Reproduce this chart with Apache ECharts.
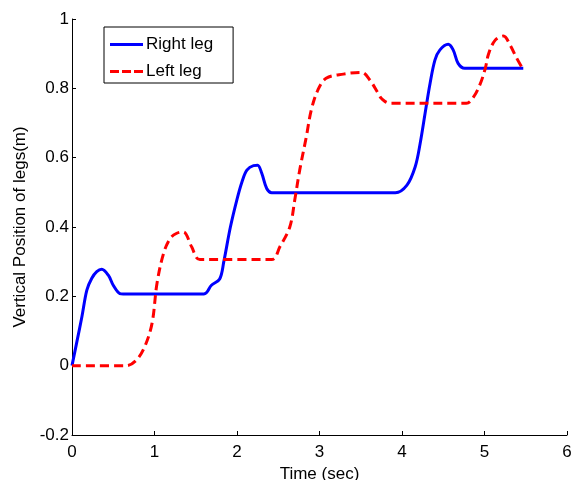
<!DOCTYPE html>
<html>
<head>
<meta charset="utf-8">
<script src="https://cdn.jsdelivr.net/npm/echarts@6/dist/echarts.min.js"></script>
<style>
  html, body { margin: 0; padding: 0; background: #fff; }
  #chart { width: 572px; height: 480px; }
</style>
</head>
<body>
<div id="chart"></div>
<script>
// Right leg trajectory: time (s) and vertical position (m)
const rightT = [0, 0.06, 0.12, 0.18, 0.24, 0.30, 0.36, 0.44, 0.50, 0.58, 0.62, 1.6, 1.69, 1.79, 1.84, 1.92, 2.0, 2.06, 2.12, 2.2, 2.25, 2.30, 2.36, 2.42, 3.92, 4.06, 4.16, 4.22, 4.28, 4.34, 4.40, 4.46, 4.56, 4.62, 4.68, 4.76, 5.47];
const rightY = [0, 0.07, 0.141, 0.218, 0.252, 0.271, 0.278, 0.261, 0.232, 0.208, 0.207, 0.207, 0.232, 0.25, 0.30, 0.40, 0.48, 0.53, 0.564, 0.577, 0.578, 0.555, 0.511, 0.499, 0.499, 0.521, 0.574, 0.641, 0.728, 0.814, 0.882, 0.911, 0.927, 0.911, 0.872, 0.858, 0.858];

// Left leg trajectory
const leftT = [0, 0.66, 0.78, 0.88, 0.97, 1.03, 1.11, 1.19, 1.27, 1.35, 1.45, 1.55, 2.42, 2.52, 2.64, 2.70, 2.76, 2.84, 2.90, 2.98, 3.08, 3.29, 3.51, 3.61, 3.71, 3.75, 3.85, 4.78, 4.87, 4.95, 5.01, 5.05, 5.13, 5.23, 5.31, 5.39, 5.46];
const leftY = [0, 0, 0.016, 0.054, 0.122, 0.237, 0.324, 0.367, 0.382, 0.386, 0.343, 0.306, 0.306, 0.343, 0.40, 0.478, 0.564, 0.66, 0.737, 0.795, 0.829, 0.841, 0.846, 0.824, 0.786, 0.771, 0.757, 0.757, 0.776, 0.814, 0.858, 0.90, 0.939, 0.951, 0.925, 0.887, 0.858];

const seriesNames = ['Right leg', 'Left leg'];
const xLabel = 'Time (sec)';
const yLabel = 'Vertical Position of legs(m)';

// Legend keys: a solid stroke and a dashed stroke
const legendIcons = [
  'path://M0,0h33v3h-33z',
  'path://M0,0h9v3h-9zM12,0h9v3h-9zM24,0h9v3h-9z'
];

const zip = (a, b) => a.map((v, i) => [v, b[i]]);

const FONT = 'Liberation Sans, Arial, sans-serif';
const chart = echarts.init(document.getElementById('chart'), null, { renderer: 'canvas' });

chart.setOption({
  animation: false,
  backgroundColor: '#fff',
  grid: { left: 72, right: 5, top: 19, bottom: 45, containLabel: false, outerBoundsMode: 'none' },
  legend: {
    orient: 'vertical',
    left: 104,
    top: 27,
    data: seriesNames.map((n, i) => ({ name: n, icon: legendIcons[i] })),
    itemWidth: 33,
    itemHeight: 3,
    itemGap: 10,
    padding: [9, 20, 3, 6],
    borderColor: '#000',
    borderWidth: 1,
    backgroundColor: '#fff',
    textStyle: { fontFamily: FONT, fontSize: 17, color: '#000', padding: [0, 0, 0, -2] }
  },
  xAxis: {
    type: 'value',
    min: 0, max: 6, interval: 1,
    name: xLabel,
    nameLocation: 'middle',
    nameGap: 30,
    nameTextStyle: { fontFamily: FONT, fontSize: 17, color: '#000' },
    axisLine: { onZero: false, lineStyle: { color: '#000', width: 1 } },
    axisTick: { inside: true, length: 4, lineStyle: { color: '#000' } },
    axisLabel: { fontFamily: FONT, fontSize: 17, color: '#000', margin: 9 },
    splitLine: { show: false }
  },
  yAxis: {
    type: 'value',
    min: -0.2, max: 1, interval: 0.2,
    name: yLabel,
    nameLocation: 'middle',
    nameGap: 36,
    nameTextStyle: { fontFamily: FONT, fontSize: 17, color: '#000' },
    axisLine: { show: true, onZero: false, lineStyle: { color: '#000', width: 1 } },
    axisTick: { show: true, inside: true, length: 4, lineStyle: { color: '#000' } },
    axisLabel: { fontFamily: FONT, fontSize: 17, color: '#000', margin: 3 },
    splitLine: { show: false }
  },
  series: [
    {
      name: seriesNames[0],
      type: 'line',
      data: zip(rightT, rightY),
      symbol: 'none',
      smooth: 0.35,
      color: '#0000ff',
      lineStyle: { color: '#0000ff', width: 3 }
    },
    {
      name: seriesNames[1],
      type: 'line',
      data: zip(leftT, leftY),
      symbol: 'none',
      smooth: 0.35,
      color: '#ff0000',
      lineStyle: { color: '#ff0000', width: 3, type: [9, 5] }
    }
  ]
});
</script>
</body>
</html>
